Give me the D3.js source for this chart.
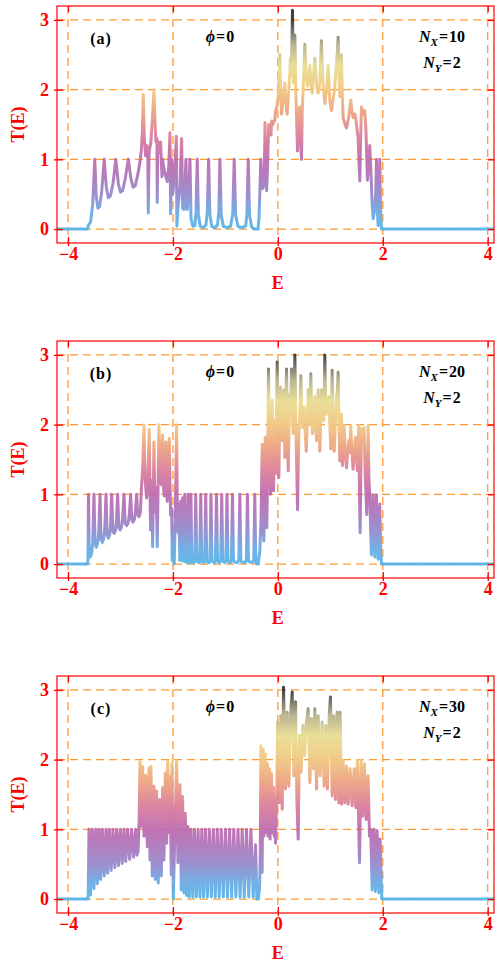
<!DOCTYPE html>
<html>
<head>
<meta charset="utf-8">
<script src="https://d3js.org/d3.v7.min.js"></script>
<style>
body { margin: 0; background: #fff; }
svg text { font-family: "Liberation Serif", "DejaVu Serif", serif; font-weight: bold; }
</style>
</head>
<body>
<div id="chart"></div>
<script>
// transmission T(E) for three ribbon lengths, phi = 0
var xTicks = [-4, -2, 0, 2, 4];
var yTicks = [0, 1, 2, 3];
var panelTags = ["(a)", "(b)", "(c)"];
var nxValues = [10, 20, 30];
var nyValue = 2;

// [E, T] pairs
var curveA = [
  [-4.21,0],[-3.63,0],[-3.61,0.06],[-3.57,0.1],[-3.53,0.35],[-3.49,1.0],[-3.46,0.45],[-3.43,0.3],[-3.40,0.32],[-3.36,0.52],
  [-3.31,1.0],[-3.27,0.6],[-3.23,0.45],[-3.19,0.48],[-3.14,0.66],[-3.09,1.0],[-3.04,0.65],[-3.0,0.53],[-2.96,0.55],[-2.91,0.72],
  [-2.85,1.0],[-2.80,0.72],[-2.76,0.6],[-2.72,0.62],[-2.67,0.78],[-2.63,0.95],[-2.60,1.15],[-2.58,1.45],[-2.566,1.93],[-2.545,1.3],
  [-2.52,1.05],[-2.50,1.2],[-2.48,1.15],[-2.47,0.23],[-2.455,1.1],[-2.42,1.25],[-2.39,1.6],[-2.362,2.0],[-2.34,1.5],[-2.324,1.25],
  [-2.305,1.3],[-2.299,0.38],[-2.29,1.2],[-2.273,1.25],[-2.25,1.1],[-2.235,1.25],[-2.21,0.75],[-2.195,1.0],[-2.18,0.9],[-2.146,0.78],
  [-2.12,0.72],[-2.108,0.68],[-2.08,0.9],[-2.057,1.38],[-2.044,0.22],[-2.025,1.0],[-2.006,0.5],[-1.99,0.6],[-1.955,1.0],[-1.935,1.33],
  [-1.925,0.04],[-1.905,0.3],[-1.867,0.6],[-1.835,1.3],[-1.815,0.3],[-1.79,0.28],[-1.752,1.0],[-1.735,0.3],[-1.727,0.28],[-1.70,0.5],
  [-1.676,1.0],[-1.655,0.15],[-1.62,0.04],[-1.581,0.05],[-1.56,0.25],[-1.537,1.0],[-1.515,0.2],[-1.48,0.04],[-1.42,0.02],[-1.37,0.06],
  [-1.345,0.25],[-1.32,1.0],[-1.295,0.2],[-1.26,0.04],[-1.2,0.02],[-1.15,0.06],[-1.125,0.25],[-1.105,1.0],[-1.08,0.2],[-1.04,0.04],
  [-0.97,0.02],[-0.9,0.04],[-0.86,0.22],[-0.832,1.0],[-0.805,0.2],[-0.76,0.04],[-0.68,0.02],[-0.61,0.05],[-0.59,0.22],[-0.565,1.0],
  [-0.54,0.2],[-0.5,0.03],[-0.45,0.0],[-0.38,0.0],[-0.36,0.15],[-0.34,0.6],[-0.325,1.0],[-0.31,0.8],[-0.29,0.58],[-0.26,0.65],
  [-0.245,1.53],[-0.235,1.0],[-0.215,0.55],[-0.2,0.8],[-0.175,1.5],[-0.15,1.4],[-0.13,1.35],[-0.12,1.55],[-0.095,1.5],[-0.076,1.55],
  [-0.06,1.55],[-0.044,1.7],[-0.02,1.75],[0.006,1.9],[0.025,2.2],[0.038,2.5],[0.055,1.9],[0.07,1.65],[0.1,1.85],[0.133,2.1],
  [0.155,1.8],[0.177,1.65],[0.21,2.0],[0.241,2.45],[0.255,2.2],[0.279,3.14],[0.29,2.4],[0.298,2.1],[0.324,2.78],[0.345,1.9],
  [0.356,1.6],[0.375,1.12],[0.39,1.5],[0.413,1.75],[0.43,1.3],[0.45,1.0],[0.465,1.7],[0.483,2.0],[0.514,2.65],[0.54,2.2],
  [0.565,2.05],[0.61,2.35],[0.635,2.05],[0.654,1.95],[0.705,2.45],[0.74,2.05],[0.768,1.95],[0.8,2.1],[0.83,2.7],[0.86,2.1],
  [0.895,1.8],[0.93,2.0],[0.959,2.35],[0.99,1.85],[1.022,1.7],[1.08,2.0],[1.13,2.5],[1.149,2.75],[1.165,2.2],[1.181,1.9],
  [1.2,2.2],[1.213,2.5],[1.23,1.9],[1.244,1.6],[1.28,1.5],[1.308,1.45],[1.35,1.6],[1.39,1.85],[1.41,1.7],[1.435,1.6],
  [1.47,1.65],[1.499,1.5],[1.53,1.3],[1.55,0.9],[1.562,0.69],[1.575,1.2],[1.594,1.75],[1.62,1.65],[1.657,1.7],[1.68,1.4],
  [1.708,0.7],[1.73,0.95],[1.752,1.2],[1.775,0.8],[1.795,0.4],[1.816,0.15],[1.84,0.25],[1.865,0.5],[1.879,1.0],[1.895,0.3],
  [1.911,0.05],[1.93,0.4],[1.943,1.0],[1.96,0.2],[1.975,0.0],[4.12,0]
];

var curveB = [
  [-4.21,0],[-3.63,0],[-3.62,0.05],[-3.61,1.0],[-3.595,0.15],[-3.575,0.1],[-3.55,0.15],[-3.53,0.3],[-3.505,1.0],[-3.485,0.3],
  [-3.46,0.24],[-3.435,0.3],[-3.415,0.45],[-3.39,1.0],[-3.37,0.35],[-3.345,0.31],[-3.32,0.36],[-3.30,0.5],[-3.276,1.0],[-3.255,0.42],
  [-3.23,0.37],[-3.205,0.42],[-3.19,0.55],[-3.168,1.0],[-3.145,0.47],[-3.12,0.44],[-3.095,0.48],[-3.078,0.6],[-3.054,1.0],[-3.03,0.52],
  [-3.005,0.49],[-2.98,0.53],[-2.96,0.65],[-2.933,1.0],[-2.91,0.58],[-2.88,0.55],[-2.855,0.59],[-2.833,0.7],[-2.806,1.0],[-2.785,0.63],
  [-2.76,0.6],[-2.735,0.64],[-2.715,0.75],[-2.692,1.0],[-2.67,0.7],[-2.645,0.68],[-2.62,0.75],[-2.60,1.1],[-2.575,1.4],[-2.552,2.0],
  [-2.53,1.2],[-2.502,0.95],[-2.475,1.3],[-2.451,1.93],[-2.435,0.9],[-2.425,0.49],[-2.405,1.2],[-2.387,0.25],[-2.362,1.75],[-2.343,0.75],
  [-2.32,1.1],[-2.299,0.25],[-2.267,2.0],[-2.245,1.3],[-2.222,1.14],[-2.197,1.85],[-2.18,1.1],[-2.165,0.98],[-2.133,1.75],[-2.12,1.0],
  [-2.108,0.9],[-2.07,1.8],[-2.055,1.1],[-2.044,0.7],[-2.025,0.8],[-2.013,0.05],[-1.995,0.3],[-1.975,0.0],[-1.955,0.7],[-1.93,2.0],
  [-1.915,0.6],[-1.90,0.45],[-1.885,0.85],[-1.87,0.05],[-1.852,0.9],[-1.835,0.05],[-1.815,0.95],[-1.80,0.04],[-1.775,1.0],[-1.755,0.03],
  [-1.73,0.02],[-1.71,1.0],[-1.69,0.03],[-1.675,0.02],[-1.657,1.0],[-1.64,0.03],[-1.6,0.02],[-1.585,0.05],[-1.565,1.0],[-1.545,0.04],
  [-1.5,0.02],[-1.49,0.05],[-1.47,1.0],[-1.45,0.04],[-1.41,0.02],[-1.395,0.05],[-1.375,1.0],[-1.355,0.04],[-1.31,0.02],[-1.295,0.05],
  [-1.275,1.0],[-1.255,0.04],[-1.21,0.02],[-1.19,0.05],[-1.17,1.0],[-1.15,0.04],[-1.11,0.02],[-1.09,0.05],[-1.07,1.0],[-1.05,0.04],
  [-1.01,0.02],[-0.99,0.05],[-0.97,1.0],[-0.95,0.04],[-0.91,0.02],[-0.885,0.05],[-0.865,1.0],[-0.845,0.04],[-0.78,0.02],[-0.745,0.05],
  [-0.725,1.0],[-0.705,0.04],[-0.64,0.02],[-0.6,0.05],[-0.58,1.0],[-0.56,0.04],[-0.5,0.02],[-0.46,0.05],[-0.44,1.0],[-0.42,0.03],
  [-0.4,0.0],[-0.375,0.0],[-0.343,0.2],[-0.32,0.66],[-0.298,1.72],[-0.28,0.5],[-0.267,0.33],[-0.255,0.8],[-0.241,1.82],[-0.225,0.9],
  [-0.21,0.52],[-0.195,1.5],[-0.178,2.8],[-0.16,1.5],[-0.14,1.0],[-0.125,1.8],[-0.108,2.35],[-0.095,1.6],[-0.083,1.05],[-0.07,1.7],
  [-0.057,2.06],[-0.044,1.3],[-0.03,2.0],[-0.013,2.9],[0.0,1.8],[0.019,1.24],[0.035,2.0],[0.051,2.54],[0.065,2.1],[0.083,1.77],
  [0.1,2.2],[0.114,2.5],[0.125,2.0],[0.133,1.53],[0.15,2.2],[0.165,2.8],[0.18,1.9],[0.197,1.34],[0.215,2.0],[0.229,2.44],
  [0.245,2.2],[0.26,2.8],[0.275,2.2],[0.292,1.87],[0.31,2.4],[0.324,3.0],[0.338,2.3],[0.349,1.77],[0.362,1.3],[0.375,0.78],
  [0.388,1.4],[0.4,1.87],[0.42,2.2],[0.438,2.7],[0.455,2.2],[0.47,1.96],[0.485,2.1],[0.502,2.25],[0.52,1.9],[0.54,1.62],
  [0.56,2.0],[0.578,2.5],[0.6,2.0],[0.629,2.73],[0.645,2.2],[0.66,1.87],[0.685,2.1],[0.705,2.4],[0.72,2.0],[0.737,1.77],
  [0.75,2.1],[0.768,2.5],[0.785,2.0],[0.8,1.62],[0.815,2.0],[0.832,2.5],[0.85,2.2],[0.876,2.06],[0.895,3.0],[0.91,2.4],
  [0.927,2.15],[0.95,2.3],[0.971,2.4],[0.99,2.0],[1.01,1.65],[1.02,2.2],[1.035,2.78],[1.055,2.0],[1.073,1.62],[1.095,2.0],
  [1.117,2.37],[1.135,2.5],[1.149,2.75],[1.165,2.0],[1.181,1.48],[1.2,1.9],[1.213,2.15],[1.222,1.8],[1.232,1.41],[1.25,1.7],
  [1.263,1.99],[1.285,1.6],[1.308,1.38],[1.33,1.6],[1.352,1.77],[1.37,1.6],[1.39,1.99],[1.41,1.6],[1.435,1.36],[1.455,1.6],
  [1.479,1.82],[1.5,1.5],[1.517,1.34],[1.53,1.7],[1.543,1.99],[1.556,1.0],[1.568,0.45],[1.58,1.2],[1.594,1.94],[1.62,1.8],
  [1.644,1.96],[1.657,1.5],[1.67,1.19],[1.695,0.71],[1.708,1.3],[1.721,1.99],[1.737,1.2],[1.752,1.0],[1.768,0.5],[1.784,0.13],
  [1.8,0.6],[1.816,0.99],[1.832,0.5],[1.848,0.1],[1.864,0.5],[1.879,0.99],[1.895,0.4],[1.911,0.07],[1.927,0.45],[1.943,0.86],
  [1.96,0.2],[1.975,0.0],[4.12,0]
];

var curveC = [
  [-4.21,0],[-3.63,0],[-3.615,0.05],[-3.6,1.0],[-3.57,0.06],[-3.537,1.0],[-3.505,0.15],[-3.473,1.0],[-3.44,0.22],[-3.41,1.0],
  [-3.378,0.28],[-3.346,1.0],[-3.31,0.33],[-3.276,1.0],[-3.245,0.37],[-3.213,1.0],[-3.178,0.41],[-3.143,1.0],[-3.108,0.45],[-3.073,1.0],
  [-3.038,0.48],[-3.003,1.0],[-2.968,0.51],[-2.933,1.0],[-2.9,0.54],[-2.864,1.0],[-2.825,0.57],[-2.787,1.0],[-2.75,0.6],[-2.711,1.0],
  [-2.685,0.63],[-2.665,0.68],[-2.645,1.1],[-2.629,1.97],[-2.61,1.04],[-2.578,1.9],[-2.552,0.9],[-2.521,1.78],[-2.489,0.75],[-2.457,1.88],
  [-2.438,0.56],[-2.419,1.9],[-2.394,0.33],[-2.362,1.62],[-2.337,0.28],[-2.311,1.55],[-2.28,0.23],[-2.248,1.43],[-2.222,0.33],[-2.197,1.6],
  [-2.171,0.56],[-2.146,1.81],[-2.12,0.8],[-2.1,1.98],[-2.076,0.95],[-2.057,1.76],[-2.032,0.35],[-2.019,1.95],[-1.994,0.0],[-1.962,0.95],
  [-1.93,1.98],[-1.905,0.52],[-1.867,1.64],[-1.841,0.13],[-1.816,1.47],[-1.79,0.09],[-1.765,1.23],[-1.74,0.05],[-1.714,1.04],[-1.689,0.03],
  [-1.657,1.0],[-1.623,0.03],[-1.59,1.0],[-1.555,0.03],[-1.52,1.0],[-1.485,0.03],[-1.45,1.0],[-1.415,0.03],[-1.38,1.0],[-1.343,0.03],
  [-1.305,1.0],[-1.268,0.03],[-1.23,1.0],[-1.193,0.03],[-1.155,1.0],[-1.118,0.03],[-1.08,1.0],[-1.04,0.03],[-1.0,1.0],[-0.96,0.03],
  [-0.92,1.0],[-0.88,0.03],[-0.84,1.0],[-0.8,0.03],[-0.76,1.0],[-0.72,0.03],[-0.68,1.0],[-0.64,0.03],[-0.597,1.0],[-0.555,0.03],
  [-0.514,1.0],[-0.47,0.03],[-0.425,0.78],[-0.4,0.0],[-0.375,0.0],[-0.35,0.15],[-0.335,0.6],[-0.324,2.2],[-0.312,1.1],[-0.3,0.38],
  [-0.29,1.4],[-0.278,2.15],[-0.266,0.9],[-0.255,1.7],[-0.241,2.08],[-0.228,0.95],[-0.215,1.6],[-0.2,1.95],[-0.188,0.9],[-0.175,1.6],
  [-0.16,1.87],[-0.148,0.86],[-0.135,1.6],[-0.12,1.8],[-0.108,0.95],[-0.095,1.4],[-0.083,1.6],[-0.07,0.9],[-0.057,1.35],[-0.044,0.8],
  [-0.03,1.2],[-0.018,1.6],[-0.006,2.54],[0.025,1.38],[0.057,2.63],[0.083,1.29],[0.108,3.04],[0.146,1.58],[0.178,2.68],[0.21,1.62],
  [0.241,2.63],[0.273,2.97],[0.305,1.77],[0.337,2.83],[0.362,1.43],[0.387,0.86],[0.413,2.35],[0.444,1.82],[0.476,2.49],[0.508,2.06],
  [0.54,2.5],[0.578,2.73],[0.61,1.67],[0.641,2.59],[0.673,1.87],[0.705,2.73],[0.737,1.58],[0.768,2.63],[0.806,1.77],[0.844,2.54],
  [0.883,1.62],[0.914,2.49],[0.946,1.58],[0.978,2.63],[1.003,2.9],[1.035,1.48],[1.067,2.63],[1.098,1.43],[1.13,2.68],[1.162,1.38],
  [1.187,2.68],[1.213,1.36],[1.244,1.99],[1.276,1.38],[1.308,1.91],[1.34,1.36],[1.378,1.87],[1.416,1.34],[1.454,1.87],[1.486,1.31],
  [1.517,1.99],[1.556,0.52],[1.587,1.99],[1.619,1.19],[1.651,1.94],[1.683,1.14],[1.721,1.77],[1.746,0.9],[1.771,1.0],[1.797,0.13],
  [1.829,1.0],[1.86,0.11],[1.892,0.98],[1.924,0.09],[1.949,0.86],[1.981,0.0],[4.12,0]
];

var curves = [curveA, curveB, curveC];

var width = 497, height = 963;
var panelStep = 335;
var red = "#ff0000";
var gridColor = "#ff9a33";

var svg = d3.select('#chart').append('svg')
    .attr('width', width)
    .attr('height', height);

var x = d3.scaleLinear().domain([-4.21, 4.12]).range([57, 494]);
var y = d3.scaleLinear().domain([-0.2, 3.2]).range([243, 6]);

// line colour follows T(E): blue at 0, purple at 1, yellow at 2, dark at 3
var grad = svg.append('defs').append('linearGradient')
    .attr('id', 'tgrad')
    .attr('gradientUnits', 'userSpaceOnUse')
    .attr('x1', 0).attr('x2', 0)
    .attr('y1', y(0)).attr('y2', y(3));
[[0, "#52b2e8"], [0.08, "#68a8e2"], [0.16, "#9088cc"], [0.25, "#aa74ba"], [0.333, "#bb68ae"], [0.45, "#da7c98"],
 [0.56, "#eca07e"], [0.667, "#f0c67e"], [0.78, "#e8dc8e"], [0.88, "#b4ae8a"], [1, "#303030"]]
  .forEach(function(s) {
    grad.append('stop').attr('offset', s[0]).attr('stop-color', s[1]);
  });

var line = d3.line()
    .x(function(d) { return x(d[0]); })
    .y(function(d) { return y(d[1]); });

function fmt(d) { return d < 0 ? "\u2212" + Math.abs(d) : String(d); }

curves.forEach(function(data, i) {
  var g = svg.append('g').attr('transform', 'translate(0,' + (i * panelStep) + ')');
  var x0 = x.range()[0], x1 = x.range()[1], y0 = y.range()[0], y1 = y.range()[1];

  // dashed grid
  g.append('g').selectAll('line').data(xTicks).enter().append('line')
      .attr('x1', x).attr('x2', x).attr('y1', y1).attr('y2', y0)
      .attr('stroke', gridColor).attr('stroke-width', 1.3).attr('stroke-dasharray', '8,5');
  g.append('g').selectAll('line').data(yTicks).enter().append('line')
      .attr('y1', y).attr('y2', y).attr('x1', x0).attr('x2', x1)
      .attr('stroke', gridColor).attr('stroke-width', 1.3).attr('stroke-dasharray', '8,5');

  g.append('path')
      .datum(data)
      .attr('d', line)
      .attr('fill', 'none')
      .attr('stroke', 'url(#tgrad)')
      .attr('stroke-width', 3)
      .attr('stroke-linejoin', 'round')
      .attr('opacity', 0.92);

  // axes: ticks point inward, labels only bottom and left
  var bottom = g.append('g').attr('transform', 'translate(0,' + y0 + ')')
      .call(d3.axisBottom(x).tickValues(xTicks).tickSizeInner(-6).tickSizeOuter(0).tickPadding(4).tickFormat(fmt));
  var left = g.append('g').attr('transform', 'translate(' + x0 + ',0)')
      .call(d3.axisLeft(y).tickValues(yTicks).tickSizeInner(-6).tickSizeOuter(0).tickPadding(8).tickFormat(fmt));
  var top = g.append('g').attr('transform', 'translate(0,' + y1 + ')')
      .call(d3.axisTop(x).tickValues(xTicks).tickSizeInner(-6).tickSizeOuter(0).tickFormat(''));
  var right = g.append('g').attr('transform', 'translate(' + x1 + ',0)')
      .call(d3.axisRight(y).tickValues(yTicks).tickSizeInner(-6).tickSizeOuter(0).tickFormat(''));
  [bottom, left, top, right].forEach(function(a) {
    a.select('.domain').remove();
    a.attr('color', red).attr('font-size', 18).attr('font-family', null);
    a.selectAll('line').attr('stroke-width', 1.3);
  });
  bottom.selectAll('.tick line').attr('y1', 3);
  left.selectAll('.tick line').attr('x1', -3);

  g.append('rect')
      .attr('x', x0).attr('y', y1)
      .attr('width', x1 - x0).attr('height', y0 - y1)
      .attr('fill', 'none').attr('stroke', red).attr('stroke-width', 1.2);

  g.append('text')
      .attr('transform', 'translate(18,' + ((y0 + y1) / 2) + ') rotate(-90)')
      .attr('text-anchor', 'middle').attr('dominant-baseline', 'central')
      .attr('fill', red).attr('font-size', 18)
      .text('T(E)');
  g.append('text')
      .attr('x', x(0)).attr('y', 289)
      .attr('text-anchor', 'middle')
      .attr('fill', red).attr('font-size', 18)
      .text('E');

  // annotations
  g.append('text')
      .attr('x', 101).attr('y', 44)
      .attr('text-anchor', 'middle').attr('font-size', 16).attr('letter-spacing', 1)
      .text(panelTags[i]);
  var phi = g.append('text')
      .attr('x', 220).attr('y', 42)
      .attr('text-anchor', 'middle').attr('font-size', 16);
  phi.append('tspan').attr('font-style', 'italic').text('\u03d5');
  phi.append('tspan').attr('dx', 1).text('=');
  phi.append('tspan').attr('dx', 1).text('0');

  var nx = g.append('text')
      .attr('x', 442).attr('y', 42)
      .attr('text-anchor', 'middle').attr('font-size', 16);
  nx.append('tspan').attr('font-style', 'italic').text('N');
  nx.append('tspan').attr('font-style', 'italic').attr('font-size', 11).attr('dy', 4).text('X');
  nx.append('tspan').attr('dy', -4).attr('dx', 1).text('=');
  nx.append('tspan').attr('dx', 1).text(nxValues[i]);

  var ny = g.append('text')
      .attr('x', 442).attr('y', 68)
      .attr('text-anchor', 'middle').attr('font-size', 16);
  ny.append('tspan').attr('font-style', 'italic').text('N');
  ny.append('tspan').attr('font-style', 'italic').attr('font-size', 11).attr('dy', 4).text('Y');
  ny.append('tspan').attr('dy', -4).attr('dx', 1).text('=');
  ny.append('tspan').attr('dx', 1).text(nyValue);
});
</script>
</body>
</html>
